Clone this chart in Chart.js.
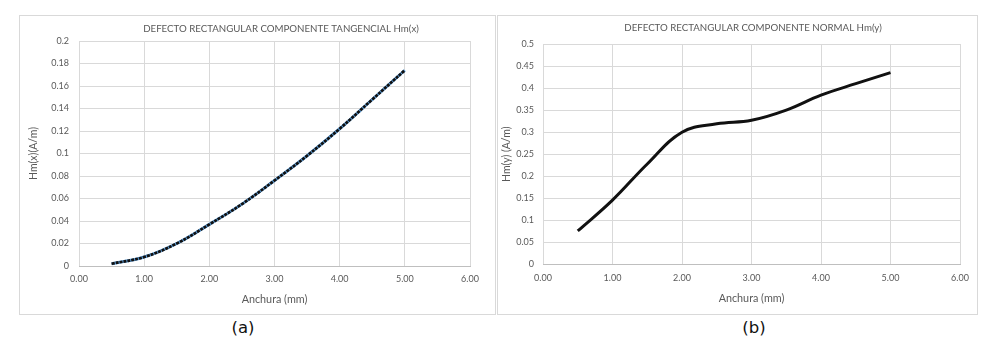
<!DOCTYPE html>
<html><head><meta charset="utf-8">
<script src="https://cdn.jsdelivr.net/npm/chart.js@4/dist/chart.umd.min.js"></script>
<style>
html,body{margin:0;padding:0;background:#fff;}
body{width:1001px;height:360px;position:relative;overflow:hidden;font-family:Lato,"Open Sans",sans-serif;}
.box{position:absolute;box-sizing:border-box;border:1px solid #d9d9d9;background:#fff;}
.box canvas{display:block;}
.cap{position:absolute;font-family:"DejaVu Sans",sans-serif;font-size:16.5px;color:#111;transform:translateX(-50%);white-space:nowrap;}
</style>
</head><body>
<div class="box" id="boxA" style="left:19px;top:15px;width:477px;height:300px;"><canvas id="chartA" width="475" height="298"></canvas></div>
<div class="box" id="boxB" style="left:497px;top:15px;width:481px;height:300px;"><canvas id="chartB" width="479" height="298"></canvas></div>
<div class="cap" style="left:243px;top:318px;">(a)</div>
<div class="cap" style="left:754px;top:318px;">(b)</div>
<script>
// ---- data ----
const widthsA = [0.5, 1.0, 1.5, 2.0, 2.5, 3.0, 3.5, 4.0, 4.5, 5.0];
const hmX     = [0.002, 0.008, 0.020, 0.037, 0.055, 0.076, 0.098, 0.122, 0.148, 0.174];
const widthsB = [0.5, 1.0, 1.5, 2.0, 2.5, 3.0, 3.5, 4.0, 4.5, 5.0];
const hmY     = [0.076, 0.146, 0.228, 0.300, 0.319, 0.327, 0.350, 0.384, 0.410, 0.435];
const titleA = 'DEFECTO RECTANGULAR COMPONENTE TANGENCIAL Hm(x)';
const titleB = 'DEFECTO RECTANGULAR COMPONENTE NORMAL Hm(y)';
const xAxisTitle = 'Anchura (mm)';
const yTitleA = 'Hm(x)(A/m)';
const yTitleB = 'Hm(y) (A/m)';

Chart.defaults.font.family = 'Lato, "Open Sans", sans-serif';
Chart.defaults.color = '#595959';

function pts(xs, ys){ return xs.map((x,i)=>({x:x, y:ys[i]})); }

const titlePlugin = {
  id:'customTitle',
  afterDraw(chart, args, opts){
    const ctx = chart.ctx;
    ctx.save();
    ctx.font = '9.7px Lato, "Open Sans", sans-serif';
    ctx.fillStyle = '#595959';
    ctx.textAlign = 'center';
    ctx.textBaseline = 'middle';
    ctx.fillText(opts.text, opts.x, opts.y);
    ctx.restore();
  }
};

function makeChart(id, datasets, cfg){
  return new Chart(document.getElementById(id), {
    type:'line',
    data:{datasets:datasets},
    plugins:[titlePlugin],
    options:{
      responsive:false, animation:false, devicePixelRatio:1,
      layout:{padding:{left:0, top:cfg.top, right:cfg.right, bottom:0}},
      plugins:{legend:{display:false}, tooltip:{enabled:false}, title:{display:false},
        customTitle:{text:cfg.title, x:cfg.tx, y:cfg.ty}},
      elements:{point:{radius:0}},
      scales:{
        x:{type:'linear', min:0, max:6,
          ticks:{stepSize:1, padding:8, font:{size:9}, color:'#595959', callback:v=>v.toFixed(2)},
          grid:{color:'#d9d9d9', drawTicks:false},
          border:{display:true, color:'#bfbfbf'},
          title:{display:true, text:xAxisTitle, font:{size:10.8}, color:'#595959', padding:{top:0,bottom:cfg.xtPad}},
          afterFit(s){ s.height = cfg.xh; }
        },
        y:{type:'linear', min:0, max:cfg.ymax,
          ticks:{stepSize:cfg.ystep, padding:cfg.ytickPad, font:{size:9}, color:'#595959', callback:v=>String(+v.toFixed(3))},
          grid:{color:'#d9d9d9', drawTicks:false},
          border:{display:false},
          title:{display:true, text:cfg.ytitle, font:{size:10.5}, color:'#595959', padding:{top:cfg.ytPad,bottom:0}},
          afterFit(s){ s.width = cfg.yw; }
        }
      }
    }
  });
}

makeChart('chartA', [
  {data:pts(widthsA, hmX), borderColor:'#111', borderWidth:2.7, borderDash:[3,1], tension:0.4, fill:false, order:1},
  {data:pts(widthsA, hmX), borderColor:'#5b9bd5', borderWidth:3, tension:0.4, fill:false, order:2}
], {top:25, right:25, xh:48, yw:59, ymax:0.2, ystep:0.02, ytickPad:10, ytPad:7, xtPad:8,
    title:titleA, tx:261, ty:13, ytitle:yTitleA});

makeChart('chartB', [
  {data:pts(widthsB, hmY), borderColor:'#111', borderWidth:3, tension:0.4, fill:false}
], {top:28, right:17, xh:49.5, yw:45, ymax:0.5, ystep:0.05, ytickPad:9, ytPad:2, xtPad:9,
    title:titleB, tx:255, ty:12, ytitle:yTitleB});
</script>
</body></html>
